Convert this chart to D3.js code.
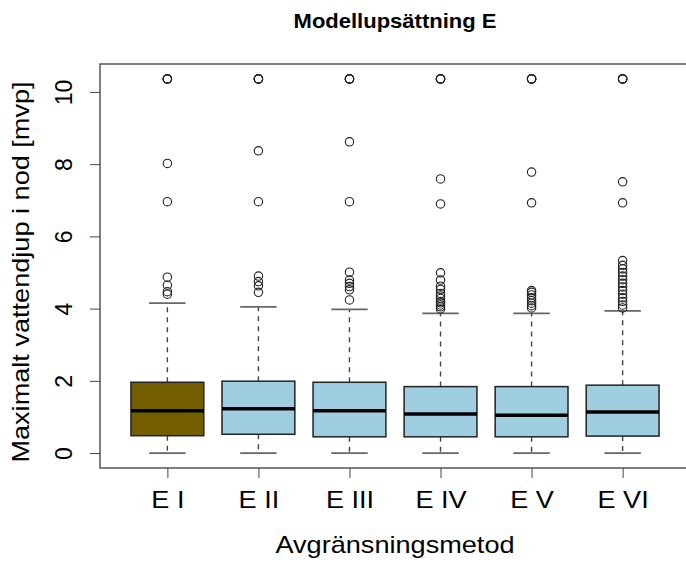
<!DOCTYPE html>
<meta charset="utf-8">
<html>
  <head>
    <title>Modellupsättning E</title>
    <script src="https://d3js.org/d3.v7.min.js"></script>
    <style>
      body{margin:0;background:#fff;}
      text{font-family:"Liberation Sans",Arial,Helvetica,sans-serif;}
    </style>
  </head>
  <body>
    <div id="chart"></div>
  <script>
    // data
    var categories=["E I","E II","E III","E IV","E V","E VI"];
    var whiskerLow=[0,0,0,0,0,0];
    var q1=[0.48,0.52,0.45,0.45,0.45,0.47];
    var medians=[1.17,1.23,1.17,1.08,1.05,1.14];
    var q3=[1.96,1.99,1.96,1.84,1.84,1.88];
    var whiskerHigh=[4.15,4.05,3.98,3.87,3.87,3.94];
    var outliers=[
      [10.36,10.36,10.36,10.36,8.02,6.96,4.87,4.65,4.47,4.40],
      [10.36,10.36,10.36,10.36,8.37,6.96,4.90,4.75,4.63,4.45],
      [10.36,10.36,10.36,10.36,8.62,6.96,5.01,4.79,4.70,4.61,4.52,4.24],
      [10.36,10.36,10.36,10.36,7.59,6.90,4.99,4.79,4.62,4.53,4.42,4.35,4.28,4.20,4.16,4.10,4.05,3.99],
      [10.36,10.36,10.36,10.36,7.78,6.93,4.50,4.45,4.38,4.30,4.22,4.15,4.08,4.02],
      [10.36,10.36,10.36,10.36,7.51,6.93,5.33,5.20,5.10,5.00,4.90,4.80,4.70,4.60,4.50,4.40,4.30,4.20,4.10,4.02]
    ];
    var yTicks=[0,2,4,6,8,10];
    var fills=["#735f00","#9ecee0","#9ecee0","#9ecee0","#9ecee0","#9ecee0"];

    var width=686,height=563;
    var plotL=100,plotR=690,plotT=64,plotB=468;
    var stretch=1.13; // text in the picture is a bit wider than Liberation Sans

    var svg=d3.select("#chart").append("svg")
      .attr("width",width).attr("height",height);

    // R style: xlim 0.5..n+0.5 extended by 4%
    var x=d3.scaleLinear().domain([0.26,6.74]).range([plotL,plotR]);
    var y=d3.scaleLinear().domain([-0.414,10.774]).range([plotB,plotT]);
    var boxW=0.8*(x(2)-x(1)),capW=boxW/2;

    var data=categories.map(function(c,i){
      return {name:c,i:i+1,lo:whiskerLow[i],q1:q1[i],med:medians[i],q3:q3[i],hi:whiskerHigh[i],out:outliers[i],fill:fills[i]};
    });

    var g=svg.append("g");
    var box=g.selectAll("g.box").data(data).enter().append("g").attr("class","box");

    // whiskers
    box.append("line")
      .attr("x1",function(d){return x(d.i)}).attr("x2",function(d){return x(d.i)})
      .attr("y1",function(d){return y(d.q3)}).attr("y2",function(d){return y(d.hi)})
      .attr("stroke","#444").attr("stroke-width",1.4).attr("stroke-dasharray","5,5");
    box.append("line")
      .attr("x1",function(d){return x(d.i)}).attr("x2",function(d){return x(d.i)})
      .attr("y1",function(d){return y(d.q1)}).attr("y2",function(d){return y(d.lo)})
      .attr("stroke","#444").attr("stroke-width",1.4).attr("stroke-dasharray","5,5");
    // caps
    ["lo","hi"].forEach(function(k){
      box.append("line")
        .attr("x1",function(d){return x(d.i)-capW/2}).attr("x2",function(d){return x(d.i)+capW/2})
        .attr("y1",function(d){return y(d[k])}).attr("y2",function(d){return y(d[k])})
        .attr("stroke","#666").attr("stroke-width",1.8);
    });
    // boxes
    box.append("rect")
      .attr("x",function(d){return x(d.i)-boxW/2})
      .attr("y",function(d){return y(d.q3)})
      .attr("width",boxW)
      .attr("height",function(d){return y(d.q1)-y(d.q3)})
      .attr("fill",function(d){return d.fill})
      .attr("stroke","#222").attr("stroke-width",1.5);
    // medians
    box.append("line")
      .attr("x1",function(d){return x(d.i)-boxW/2}).attr("x2",function(d){return x(d.i)+boxW/2})
      .attr("y1",function(d){return y(d.med)}).attr("y2",function(d){return y(d.med)})
      .attr("stroke","#000").attr("stroke-width",3.5);
    // outliers
    box.selectAll("circle").data(function(d){return d.out.map(function(v){return {i:d.i,v:v}})})
      .enter().append("circle")
      .attr("cx",function(d){return x(d.i)}).attr("cy",function(d){return y(d.v)})
      .attr("r",4.2).attr("fill","none").attr("stroke","#222").attr("stroke-width",1.1);

    // frame
    svg.append("rect").attr("x",plotL).attr("y",plotT)
      .attr("width",plotR-plotL).attr("height",plotB-plotT)
      .attr("fill","none").attr("stroke","#555").attr("stroke-width",1.5);

    // y axis
    var yAxis=svg.append("g").attr("transform","translate("+plotL+",0)")
      .call(d3.axisLeft(y).tickValues(yTicks).tickSize(10));
    yAxis.select(".domain").remove();
    yAxis.selectAll(".tick line").attr("stroke","#444");
    yAxis.selectAll(".tick text")
      .attr("font-size","23px").attr("font-family","Liberation Sans, Arial, sans-serif")
      .attr("fill","#000")
      .attr("text-anchor","middle").attr("dy",0)
      .attr("x",0).attr("y",0)
      .attr("transform","translate(-28,0) rotate(-90)");

    // x axis
    var xAxis=svg.append("g").attr("transform","translate(0,"+plotB+")")
      .call(d3.axisBottom(x).tickValues(d3.range(1,7)).tickSize(10)
        .tickFormat(function(d){return categories[d-1]}));
    xAxis.select(".domain").remove();
    xAxis.selectAll(".tick line").attr("stroke","#444");
    xAxis.selectAll(".tick text")
      .attr("font-size","24px").attr("font-family","Liberation Sans, Arial, sans-serif").attr("fill","#000")
      .attr("y",40).attr("dy",0)
      .attr("transform","scale("+stretch+",1)");

    // titles
    svg.append("text")
      .attr("transform","translate("+(plotL+plotR)/2+",28) scale(1.1,1)")
      .attr("text-anchor","middle").attr("font-weight","bold").attr("font-size","20px")
      .text("Modellupsättning E");
    svg.append("text")
      .attr("transform","translate("+(plotL+plotR)/2+",553) scale("+stretch+",1)")
      .attr("text-anchor","middle").attr("font-size","24px")
      .text("Avgränsningsmetod");
    svg.append("text")
      .attr("transform","translate(29,272) rotate(-90) scale("+stretch+",1)")
      .attr("text-anchor","middle").attr("font-size","24px")
      .text("Maximalt vattendjup i nod [mvp]");
  </script>
  </body>
</html>
